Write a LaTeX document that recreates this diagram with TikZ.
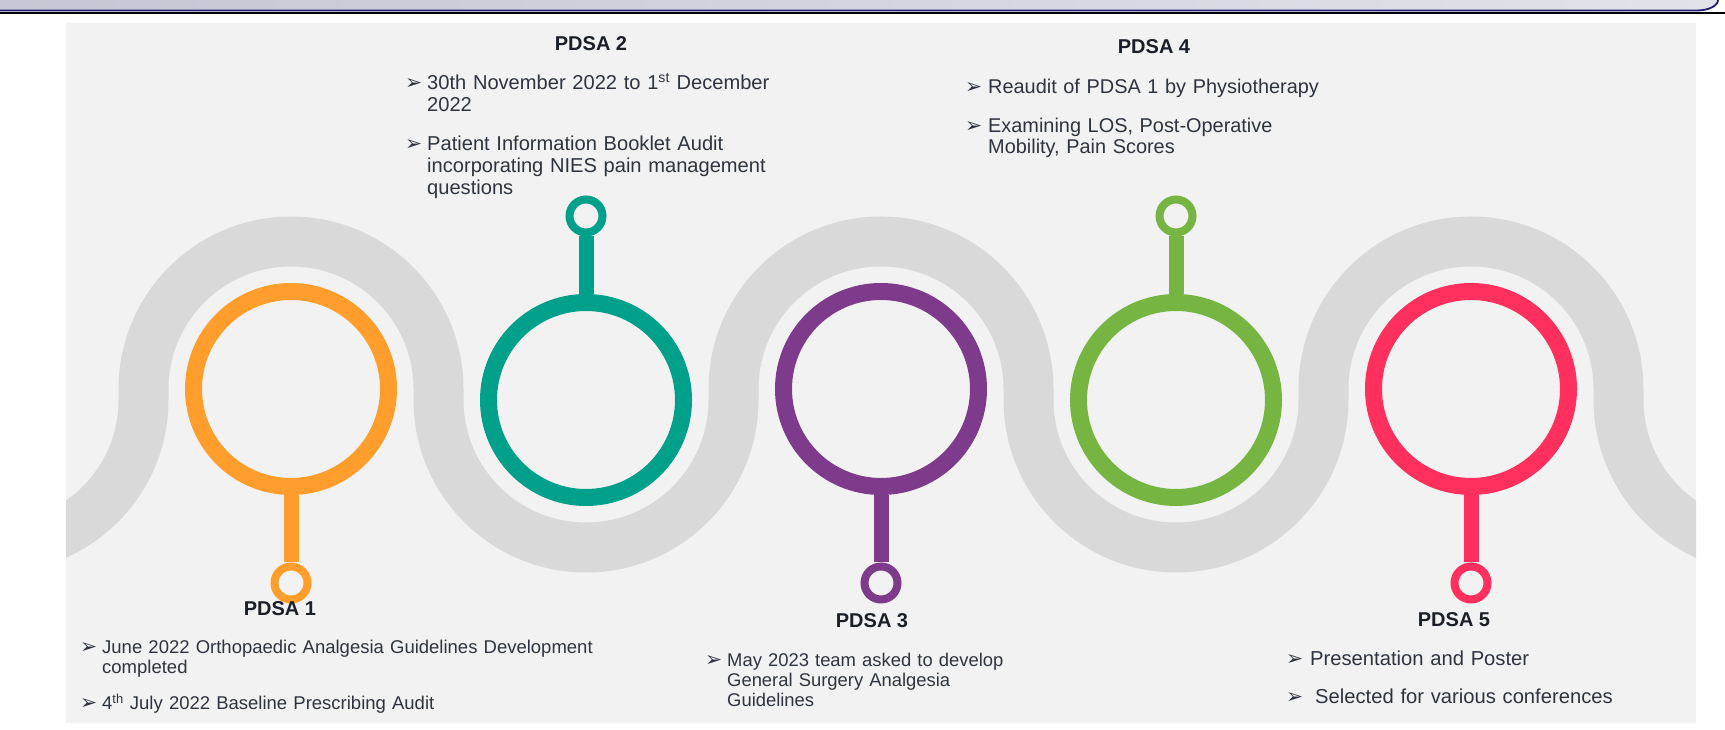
\documentclass[tikz,border=0pt]{standalone}
\usepackage{fontspec}
\setmainfont{Liberation Sans}
\newfontfamily\dingfont{DejaVu Sans}
\definecolor{panelbg}{HTML}{F2F2F2}
\definecolor{trackgray}{HTML}{D9D9D9}
\definecolor{pdsaorange}{HTML}{FF9E2C}
\definecolor{pdsateal}{HTML}{00A08A}
\definecolor{pdsapurple}{HTML}{7E3B8C}
\definecolor{pdsagreen}{HTML}{77B543}
\definecolor{pdsapink}{HTML}{FF305E}
\definecolor{bodytext}{HTML}{2E343F}
\definecolor{titletext}{HTML}{1A1F28}
\definecolor{barleft}{HTML}{C6C6D4}
\definecolor{barright}{HTML}{E2E2EA}
\definecolor{barnavy}{HTML}{1F1F6E}
\tikzset{
  ring/.style={circle, draw=#1, line width=17pt, minimum size=195pt, inner sep=0pt},
  knob/.style={circle, draw=#1, line width=8pt, minimum size=33pt, inner sep=0pt},
  stem/.style={draw=#1, line width=15pt},
  pdsatitle/.style={anchor=base, inner sep=0pt, text=titletext, font=\bfseries\fontsize{20}{24}\selectfont},
  pdsaitem/.style={anchor=base west, inner sep=0pt, text width=520pt, align=left, text=bodytext},
  arrowbullet/.style={anchor=base west, inner sep=0pt, text=bodytext, font=\dingfont\fontsize{20.5}{20}\selectfont},
}
\begin{document}
\begin{tikzpicture}[x=1pt,y=1pt]
	\useasboundingbox (0,0) rectangle (1725,730);
	\fill[white] (0,0) rectangle (1725,730);
	% header strip
	\shade[left color=barleft, right color=barright] (0,730) -- (0,719.5) -- (1697,719.5) arc[start angle=270, end angle=360, x radius=21, y radius=10.5] -- cycle;
	\draw[barnavy, line width=1.8pt] (0,719.5) -- (1697,719.5) arc[start angle=270, end angle=360, x radius=21, y radius=10.5];
	\draw[black, line width=1.2pt] (0,717) -- (1725,717);
	% panel
	\fill[panelbg] (66,7) rectangle (1696,707);
	% winding track
	\begin{scope}
		\clip (66,7) rectangle (1696,707);
		\draw[trackgray, line width=50pt] (-4,182.5) arc[start angle=270, end angle=360, radius=147.5]
			-- (143.5,341) arc[start angle=180, end angle=0, radius=147.5]
			-- (438.5,330) arc[start angle=180, end angle=360, radius=147.5]
			-- (733.5,341) arc[start angle=180, end angle=0, radius=147.5]
			-- (1028.5,330) arc[start angle=180, end angle=360, radius=147.5]
			-- (1323.5,341) arc[start angle=180, end angle=0, radius=147.5]
			-- (1618.5,330) arc[start angle=180, end angle=270, radius=147.5];
	\end{scope}
	% rings & knobs
	\node[ring=pdsaorange] (ring1) at (291,341) {};
	\node[knob=pdsaorange] (knob1) at (291,147) {};
	\node[ring=pdsateal] (ring2) at (586,330) {};
	\node[knob=pdsateal] (knob2) at (586,514) {};
	\node[ring=pdsapurple] (ring3) at (881,341) {};
	\node[knob=pdsapurple] (knob3) at (881,147) {};
	\node[ring=pdsagreen] (ring4) at (1176,330) {};
	\node[knob=pdsagreen] (knob4) at (1176,514) {};
	\node[ring=pdsapink] (ring5) at (1471,341) {};
	\node[knob=pdsapink] (knob5) at (1471,147) {};
	% stems
	\draw[stem=pdsaorange] (ring1) -- (knob1);
	\draw[stem=pdsateal] (ring2) -- (knob2);
	\draw[stem=pdsapurple] (ring3) -- (knob3);
	\draw[stem=pdsagreen] (ring4) -- (knob4);
	\draw[stem=pdsapink] (ring5) -- (knob5);
	% PDSA 1
	\node[pdsatitle] (title1) at (280,114) {PDSA 1};
	\node[pdsaitem, font=\fontsize{18.5}{19.3}\selectfont] (item1a) at (102,76) {June 2022 Orthopaedic Analgesia Guidelines Development\\completed};
	\node[pdsaitem, font=\fontsize{18.5}{19.3}\selectfont] (item1b) at (102,20) {4\textsuperscript{th} July 2022 Baseline Prescribing Audit};
	\node[arrowbullet] (bul1a) at (80,76) {➢};
	\node[arrowbullet] (bul1b) at (80,20) {➢};
	% PDSA 2
	\node[pdsatitle] (title2) at (591,679) {PDSA 2};
	\node[pdsaitem, font=\fontsize{20.1}{22}\selectfont] (item2a) at (427,640) {30th November 2022 to 1\textsuperscript{st} December\\2022};
	\node[pdsaitem, font=\fontsize{20.1}{22}\selectfont] (item2b) at (427,579) {Patient Information Booklet Audit\\incorporating NIES pain management\\questions};
	\node[arrowbullet] (bul2a) at (405,640) {➢};
	\node[arrowbullet] (bul2b) at (405,579) {➢};
	% PDSA 3
	\node[pdsatitle] (title3) at (872,102) {PDSA 3};
	\node[pdsaitem, font=\fontsize{18.4}{20}\selectfont] (item3a) at (727,63) {May 2023 team asked to develop\\General Surgery Analgesia\\Guidelines};
	\node[arrowbullet] (bul3a) at (705,63) {➢};
	% PDSA 4
	\node[pdsatitle] (title4) at (1154,676) {PDSA 4};
	\node[pdsaitem, font=\fontsize{19.9}{21}\selectfont] (item4a) at (988,636) {Reaudit of PDSA 1 by Physiotherapy};
	\node[pdsaitem, font=\fontsize{19.9}{21}\selectfont] (item4b) at (988,597) {Examining LOS, Post-Operative\\Mobility, Pain Scores};
	\node[arrowbullet] (bul4a) at (965,636) {➢};
	\node[arrowbullet] (bul4b) at (965,597) {➢};
	% PDSA 5
	\node[pdsatitle] (title5) at (1454,103) {PDSA 5};
	\node[pdsaitem, font=\fontsize{20.2}{21}\selectfont] (item5a) at (1310,64) {Presentation and Poster};
	\node[pdsaitem, font=\fontsize{20.2}{21}\selectfont] (item5b) at (1315,26) {Selected for various conferences};
	\node[arrowbullet] (bul5a) at (1286,64) {➢};
	\node[arrowbullet] (bul5b) at (1286,26) {➢};
\end{tikzpicture}
\end{document}
